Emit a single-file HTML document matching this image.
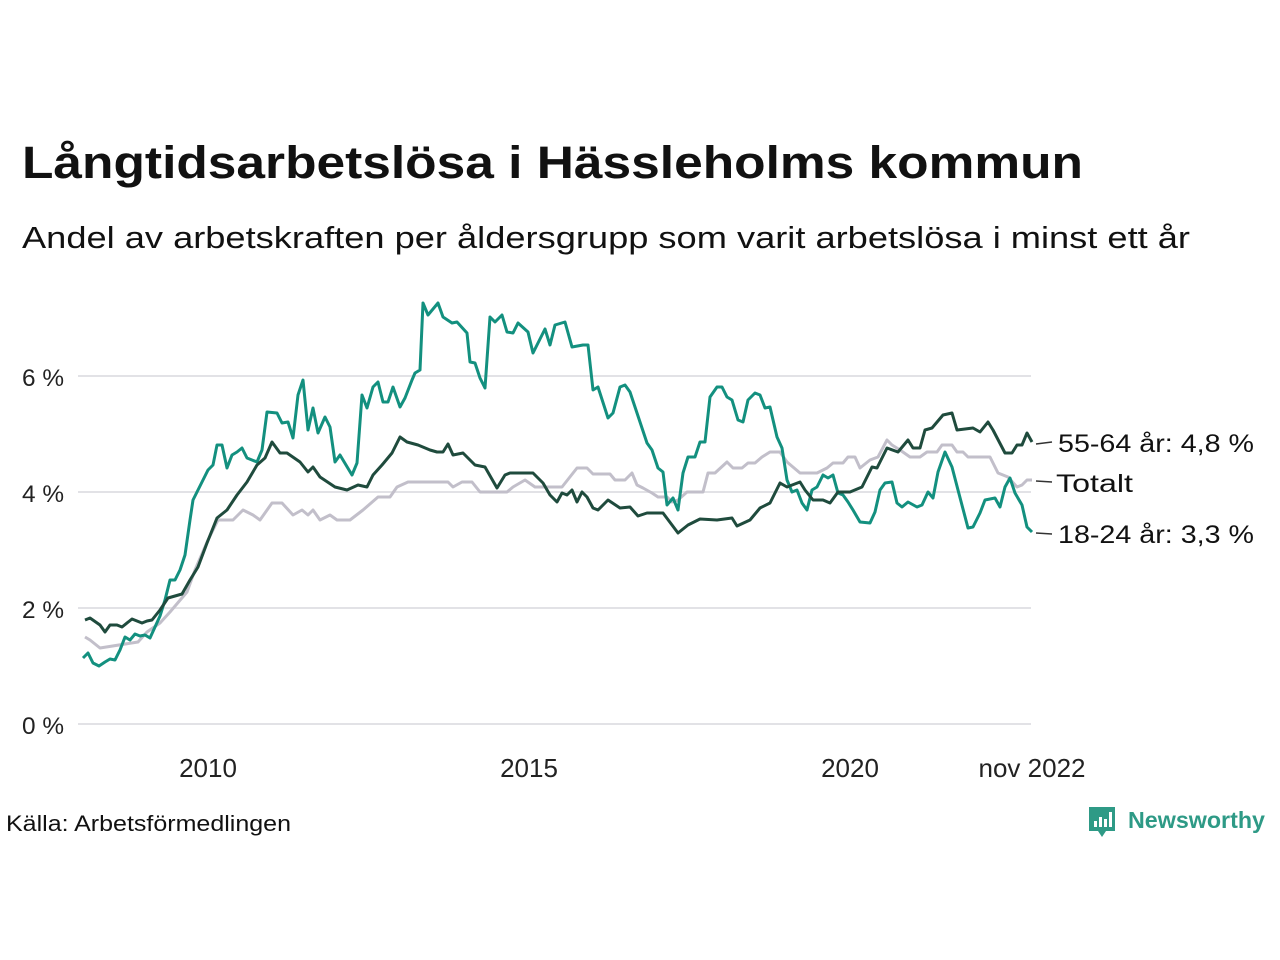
<!DOCTYPE html>
<html><head><meta charset="utf-8"><style>
html,body{margin:0;padding:0;background:#fff;}
svg{display:block;font-family:"Liberation Sans","DejaVu Sans",sans-serif;}
</style></head><body>
<svg width="1280" height="960" viewBox="0 0 1280 960" xmlns="http://www.w3.org/2000/svg">
<text x="22" y="178" font-size="45" font-weight="bold" fill="#111" textLength="1061" lengthAdjust="spacingAndGlyphs">Långtidsarbetslösa i Hässleholms kommun</text>
<text x="22" y="248" font-size="31" fill="#111" textLength="1168" lengthAdjust="spacingAndGlyphs">Andel av arbetskraften per åldersgrupp som varit arbetslösa i minst ett år</text>
<g stroke="#e2e2e6" stroke-width="2">
<line x1="78" y1="376" x2="1031" y2="376"/><line x1="78" y1="492" x2="1031" y2="492"/>
<line x1="78" y1="608" x2="1031" y2="608"/><line x1="78" y1="724" x2="1031" y2="724"/>
</g>
<g font-size="24" fill="#222">
<text x="22" y="386" textLength="42" lengthAdjust="spacingAndGlyphs">6 %</text><text x="22" y="502" textLength="42" lengthAdjust="spacingAndGlyphs">4 %</text><text x="22" y="618" textLength="42" lengthAdjust="spacingAndGlyphs">2 %</text><text x="22" y="734" textLength="42" lengthAdjust="spacingAndGlyphs">0 %</text>
</g>
<g font-size="26" fill="#222">
<text x="208" y="777" text-anchor="middle">2010</text><text x="529" y="777" text-anchor="middle">2015</text>
<text x="850" y="777" text-anchor="middle">2020</text><text x="1032" y="777" text-anchor="middle">nov 2022</text>
</g>
<g fill="none" stroke-width="3" stroke-linejoin="round">
<polyline stroke="#c2bfca" points="85,637 90,640 100,648 138,642 147,632 160,623 170,612 187,592 195,570 208,540 218,520 233,520 243,510 253,515 260,520 272,503 282,503 293,515 302,510 308,515 313,510 320,520 330,515 337,520 350,520 363,510 378,497 390,497 397,487 408,482 448,482 453,487 462,482 472,482 480,492 507,492 513,487 525,480 535,487 562,487 577,468 587,468 593,474 610,474 615,480 625,480 632,473 637,485 643,488 652,493 658,497 667,497 672,502 678,500 687,492 703,492 708,473 715,473 727,462 733,468 742,468 748,463 755,463 762,457 770,452 780,452 787,462 800,473 817,473 827,468 833,463 843,463 848,457 855,457 860,468 870,460 878,457 887,440 892,445 900,450 910,457 920,457 927,452 937,452 942,445 952,445 957,452 963,452 968,457 990,457 998,473 1008,477 1017,487 1022,485 1027,480 1032,480"/>
<polyline stroke="#13907f" points="83,658 88,653 93,663 99,666 105,662 110,659 115,660 120,650 125,637 130,640 135,634 140,636 145,635 150,638 155,627 160,616 165,600 170,580 175,580 180,570 185,555 190,520 193,500 198,490 203,480 208,470 213,465 217,445 222,445 227,468 232,455 237,452 242,448 247,458 252,460 257,462 262,450 267,412 277,413 282,423 288,422 293,438 298,395 303,380 308,430 313,408 318,433 325,417 330,427 335,462 340,455 352,475 357,463 362,395 367,408 373,387 378,382 383,402 388,402 393,387 400,407 405,398 412,380 415,373 420,370 423,303 428,315 438,303 443,317 452,323 457,322 467,333 470,362 475,363 480,378 485,388 490,317 495,322 502,315 507,332 513,333 518,323 528,332 533,353 545,329 550,345 555,325 565,322 572,347 583,345 588,345 593,390 598,387 608,418 613,413 620,387 625,385 630,392 637,413 647,443 652,450 658,468 663,472 667,505 673,498 678,510 683,473 688,457 695,457 700,442 705,442 710,397 717,387 722,387 727,397 732,400 738,420 743,422 748,400 755,393 760,395 765,408 770,407 777,437 782,448 787,480 792,492 797,490 802,503 807,510 812,490 817,487 823,475 828,478 833,475 838,493 843,495 848,502 853,510 860,522 870,523 875,512 880,490 885,483 892,482 897,503 902,507 908,502 917,507 922,505 928,492 933,498 938,472 945,452 952,467 958,490 968,528 973,527 980,513 985,500 995,498 1000,507 1005,487 1010,478 1015,493 1022,505 1027,527 1032,532"/>
<polyline stroke="#1f4b3d" points="85,620 90,618 100,625 105,632 110,625 117,625 122,627 132,619 142,623 147,621 152,620 160,610 168,598 175,596 182,594 190,580 198,567 207,543 217,518 227,510 237,495 247,482 257,465 265,458 272,442 280,453 287,453 300,462 308,472 313,467 320,477 335,487 347,490 358,485 367,487 373,475 382,465 392,453 400,437 407,442 418,445 430,450 437,452 443,452 448,444 453,455 463,453 468,458 475,465 485,467 497,488 505,475 510,473 523,473 533,473 543,483 550,495 557,502 562,493 567,495 572,490 577,502 582,492 587,497 593,508 598,510 608,500 620,508 630,507 638,516 647,513 663,513 678,533 688,525 700,519 717,520 732,518 737,526 750,520 760,508 770,503 780,483 787,487 800,482 805,490 813,500 823,500 830,503 838,492 850,492 862,487 872,467 877,468 887,448 898,452 908,440 913,448 920,448 925,430 932,428 943,415 952,413 957,430 973,428 980,432 988,422 993,430 1005,453 1012,453 1017,445 1022,445 1027,433 1032,442"/>
</g>
<g stroke="#333" stroke-width="1.5">
<line x1="1036" y1="444" x2="1052" y2="442"/><line x1="1036" y1="481" x2="1052" y2="482"/><line x1="1036" y1="533" x2="1052" y2="534"/>
</g>
<g font-size="25" fill="#111">
<text x="1058" y="452" textLength="196" lengthAdjust="spacingAndGlyphs">55-64 år: 4,8 %</text>
<text x="1056" y="492" textLength="77" lengthAdjust="spacingAndGlyphs">Totalt</text>
<text x="1058" y="543" textLength="196" lengthAdjust="spacingAndGlyphs">18-24 år: 3,3 %</text>
</g>
<text x="6" y="831" font-size="22" fill="#111" textLength="285" lengthAdjust="spacingAndGlyphs">Källa: Arbetsförmedlingen</text>
<g>
<path d="M1089,807 h26 v24 h-9 l-4,6 l-4,-6 h-9 z" fill="#2e9a86"/>
<rect x="1094" y="821" width="3" height="6" fill="#fff"/><rect x="1099" y="817" width="3" height="10" fill="#fff"/><rect x="1104" y="819" width="3" height="8" fill="#fff"/><rect x="1109" y="812" width="3" height="15" fill="#fff"/>
<text x="1128" y="828" font-size="23" font-weight="bold" fill="#2e9a86" textLength="137" lengthAdjust="spacingAndGlyphs">Newsworthy</text>
</g>
</svg>
</body></html>
